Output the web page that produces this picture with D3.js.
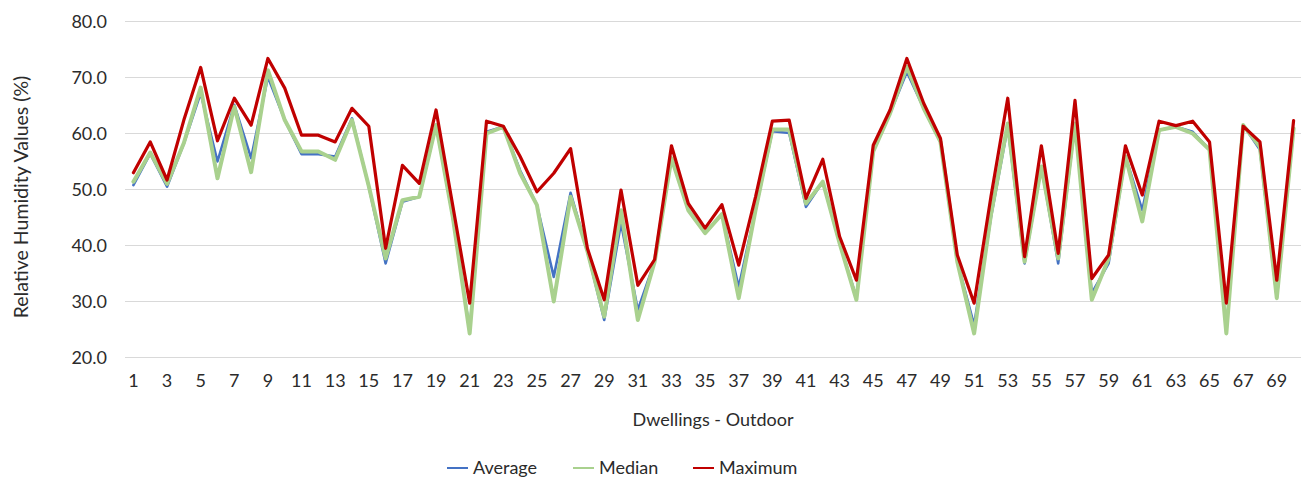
<!DOCTYPE html>
<html>
<head>
<meta charset="utf-8">
<script src="https://cdn.jsdelivr.net/npm/d3@7"></script>
<style>
  html, body { margin: 0; padding: 0; background: #fff; }
  svg { display: block; font-family: Lato, "Open Sans", sans-serif; }
</style>
</head>
<body>
<svg id="chart" width="1301" height="481"></svg>
<script>
// Outdoor relative humidity per dwelling (%)
const dwellings = d3.range(1, 71);

const average = [
  50.8, 56.4, 50.5, 58.2, 67.2, 55.0, 65.1, 55.6, 70.1, 62.4,
  56.3, 56.3, 55.9, 62.7, 50.5, 36.8, 47.8, 48.7, 61.5, 45.0,
  24.8, 60.3, 61.2, 53.4, 47.2, 34.4, 49.4, 39.0, 26.7, 44.0,
  28.5, 37.1, 55.6, 46.3, 42.2, 45.6, 32.6, 46.3, 60.4, 60.1,
  46.9, 51.4, 40.4, 30.7, 56.8, 63.6, 71.0, 64.5, 58.5, 37.1,
  25.8, 45.0, 61.2, 36.8, 54.1, 36.8, 61.8, 31.5, 36.8, 55.9,
  46.3, 60.6, 61.2, 60.3, 57.1, 24.8, 61.5, 57.1, 30.6, 60.9
];

const median = [
  51.4, 56.6, 51.0, 58.3, 68.2, 52.0, 64.8, 53.1, 71.3, 62.4,
  56.8, 56.8, 55.3, 62.4, 50.6, 37.7, 48.1, 48.7, 61.5, 45.0,
  24.3, 60.0, 61.2, 52.9, 47.2, 30.0, 48.7, 39.0, 27.3, 46.3,
  26.7, 37.1, 55.6, 46.3, 42.2, 45.6, 30.6, 46.3, 60.7, 60.7,
  47.5, 51.4, 40.4, 30.3, 56.8, 63.6, 71.9, 64.5, 58.5, 37.1,
  24.3, 45.5, 61.8, 37.1, 54.1, 37.7, 61.8, 30.3, 37.7, 55.9,
  44.3, 60.6, 61.2, 60.0, 57.1, 24.3, 61.5, 57.6, 30.6, 60.9
];

const maximum = [
  53.0, 58.5, 51.7, 62.4, 71.8, 58.7, 66.3, 61.5, 73.4, 68.1,
  59.7, 59.7, 58.5, 64.5, 61.3, 39.5, 54.3, 51.1, 64.2, 47.0,
  29.7, 62.2, 61.3, 55.9, 49.6, 52.9, 57.3, 39.5, 30.3, 49.9,
  32.9, 37.5, 57.8, 47.5, 43.1, 47.3, 36.5, 48.7, 62.2, 62.4,
  48.4, 55.4, 41.6, 33.8, 57.9, 64.2, 73.4, 65.4, 59.1, 38.3,
  29.7, 48.7, 66.3, 38.0, 57.8, 38.6, 65.9, 34.1, 38.3, 57.8,
  49.0, 62.2, 61.4, 62.2, 58.5, 29.7, 61.3, 58.5, 33.8, 62.3
];

const yTicks = [20, 30, 40, 50, 60, 70, 80];

const series = [
  { name: "Average", values: average, color: "#4472C4", width: 2.6 },
  { name: "Median",  values: median,  color: "#A9D18E", width: 4 },
  { name: "Maximum", values: maximum, color: "#C00000", width: 3.2 }
];

const textColor = "#2b2b2b";
const fontSize = 18;

const svg = d3.select("#chart");
const plot = { left: 125, right: 1302, top: 21.5, bottom: 357.5 };

const x = d3.scaleBand().domain(dwellings).range([plot.left, plot.right]);
const y = d3.scaleLinear().domain([20, 80]).range([plot.bottom, plot.top]);

// horizontal gridlines
svg.append("g")
  .selectAll("line")
  .data(yTicks)
  .join("line")
  .attr("x1", plot.left).attr("x2", plot.right)
  .attr("y1", d => y(d)).attr("y2", d => y(d))
  .attr("stroke", "#d9d9d9").attr("stroke-width", 1.2);

// y axis labels
const yAxis = d3.axisLeft(y).tickValues(yTicks).tickFormat(d3.format(".1f")).tickSize(0).tickPadding(18);
svg.append("g")
  .attr("transform", `translate(${plot.left},0)`)
  .call(yAxis)
  .call(g => g.select(".domain").remove())
  .call(g => g.selectAll("text")
    .attr("font-family", "Lato, 'Open Sans', sans-serif")
    .attr("font-size", fontSize).attr("fill", textColor));

// x axis labels (every other dwelling)
const xAxis = d3.axisBottom(x)
  .tickValues(dwellings.filter(d => d % 2 === 1))
  .tickSize(0).tickPadding(17);
svg.append("g")
  .attr("transform", `translate(0,${plot.bottom})`)
  .call(xAxis)
  .call(g => g.select(".domain").remove())
  .call(g => g.selectAll("text")
    .attr("font-family", "Lato, 'Open Sans', sans-serif")
    .attr("font-size", fontSize).attr("fill", textColor));

// series lines
const line = d3.line()
  .x((d, i) => x(dwellings[i]) + x.bandwidth() / 2)
  .y(d => y(d))
  .curve(d3.curveLinear);

svg.append("g")
  .selectAll("path")
  .data(series)
  .join("path")
  .attr("d", s => line(s.values))
  .attr("fill", "none")
  .attr("stroke", s => s.color)
  .attr("stroke-width", s => s.width)
  .attr("stroke-linejoin", "round")
  .attr("stroke-linecap", "round");

// axis titles
svg.append("text")
  .attr("x", 713).attr("y", 420).attr("dy", "0.35em")
  .attr("text-anchor", "middle")
  .attr("font-size", fontSize).attr("fill", textColor)
  .text("Dwellings - Outdoor");

svg.append("text")
  .attr("transform", `translate(21,197) rotate(-90)`)
  .attr("text-anchor", "middle")
  .attr("dy", "0.35em")
  .attr("font-size", 19.5).attr("fill", textColor)
  .text("Relative Humidity Values (%)");

// legend
const legendX = [447, 573, 693];
const legend = svg.append("g")
  .selectAll("g")
  .data(series)
  .join("g")
  .attr("transform", (s, i) => `translate(${legendX[i]},468)`);
legend.append("line")
  .attr("x1", 0).attr("x2", 21).attr("y1", 0).attr("y2", 0)
  .attr("stroke", s => s.color).attr("stroke-width", 2);
legend.append("text")
  .attr("x", 26).attr("y", 0).attr("dy", "0.35em")
  .attr("font-size", fontSize).attr("fill", textColor)
  .text(s => s.name);
</script>
</body>
</html>
